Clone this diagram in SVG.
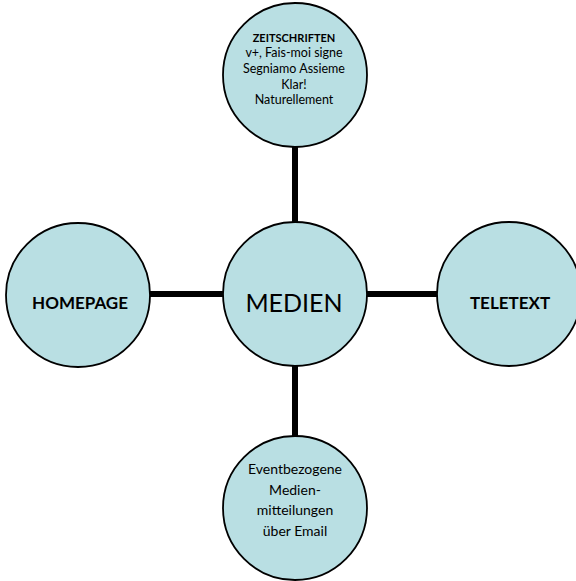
<svg xmlns="http://www.w3.org/2000/svg" width="576" height="581" viewBox="0 0 576 581">
<style>
.node{fill:#b9dfe3;stroke:#000;stroke-width:1.8}
.conn{stroke:#000;stroke-width:6;fill:none}
text{font-family:Lato,"Open Sans","Liberation Sans",sans-serif;fill:#000;text-anchor:middle}
.b{font-weight:bold}
</style>
<rect width="576" height="581" fill="#fff"/>
<g id="connectors">
<line class="conn" x1="295" y1="147" x2="295" y2="222"/>
<line class="conn" x1="295" y1="366" x2="295" y2="436"/>
<line class="conn" x1="150" y1="294" x2="223" y2="294"/>
<line class="conn" x1="367" y1="294" x2="437" y2="294"/>
</g>
<g id="zeitschriften">
<circle class="node" cx="295" cy="75" r="72"/>
<text x="294" y="42" class="b" font-size="11">ZEITSCHRIFTEN</text>
<text x="294" y="57" font-size="12.5">v+, Fais-moi signe</text>
<text x="294" y="73" font-size="12.5">Segniamo Assieme</text>
<text x="294" y="89" font-size="12.5">Klar!</text>
<text x="294" y="104" font-size="12.5">Naturellement</text>
</g>
<g id="medien">
<circle class="node" cx="295" cy="294" r="72"/>
<text x="294" y="312" font-size="25">MEDIEN</text>
</g>
<g id="homepage">
<circle class="node" cx="78" cy="295" r="72"/>
<text x="80" y="309" class="b" font-size="17">HOMEPAGE</text>
</g>
<g id="teletext">
<circle class="node" cx="509" cy="294" r="72"/>
<text x="510" y="309" class="b" font-size="17">TELETEXT</text>
</g>
<g id="email">
<circle class="node" cx="295" cy="508" r="72"/>
<text x="295" y="474" font-size="14">Eventbezogene</text>
<text x="295" y="495" font-size="14">Medien-</text>
<text x="295" y="515" font-size="14">mitteilungen</text>
<text x="295" y="536" font-size="14">über Email</text>
</g>
</svg>
